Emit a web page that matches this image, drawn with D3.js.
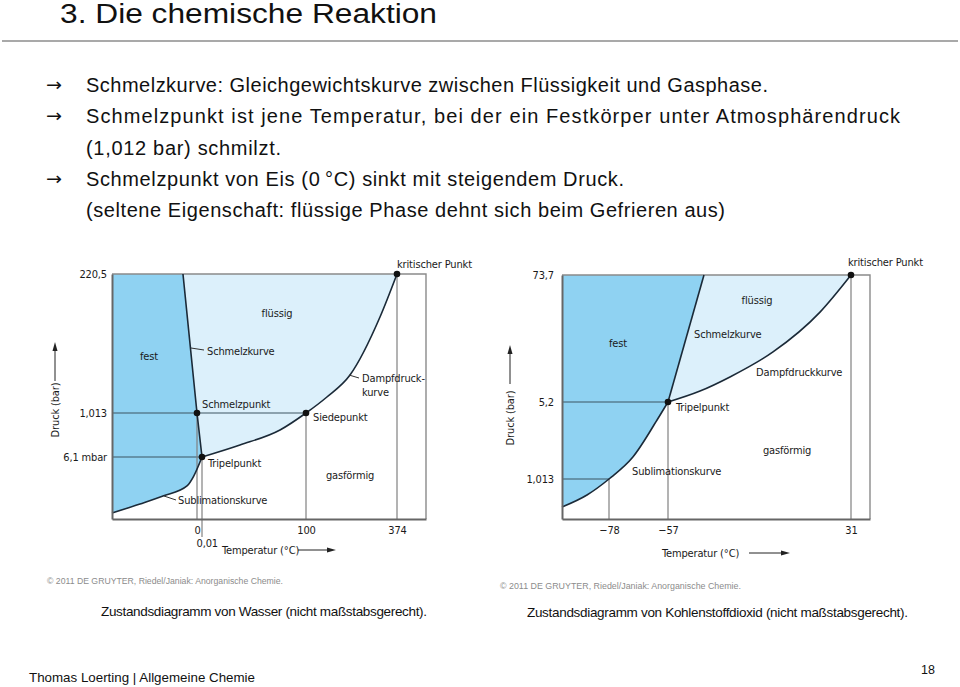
<!DOCTYPE html>
<html>
<head>
<meta charset="utf-8">
<script src="https://cdn.jsdelivr.net/npm/d3@7"></script>
<style>
    body { margin: 0; background: #fff; }
    svg { display: block; }
    .lbl { font-family: "Liberation Sans Narrow", "DejaVu Sans Condensed", sans-serif; font-size: 11px; letter-spacing: -0.15px; fill: #1a1a1a; }
    .slide { font-family: "Liberation Sans", Arial, sans-serif; fill: #111; }
    .arrow { font-family: "DejaVu Sans", sans-serif; fill: #111; }
</style>
</head>
<body>
<svg id="slide" width="960" height="687"></svg>
<script>
// ------------------------------------------------ Daten -------------------------------------------------
// Wasser (T in °C, p in bar) - nicht maßstabsgerecht, deshalb stückweise lineare Skalen
var waterXTicks = [0, 0.01, 100, 374];
var waterXLabels = ["0", "0,01", "100", "374"];
var waterYTicks = [220.5, 1.013, 0.0061];
var waterYLabels = ["220,5", "1,013", "6,1 mbar"];
var waterMelt = [[-3.3, 220.5], [0, 1.013], [0.01, 0.0061]];
var waterSubl = [[-20, 0.00059], [-13.4, 0.00148], [-8.0, 0.00226], [-2.35, 0.00325], [-0.8, 0.0042], [0.01, 0.0061]];
var waterVapor = [[0.01, 0.0061], [36.5, 0.281], [75, 0.624], [100, 1.013], [163, 26.3], [232.5, 61.0], [322.8, 152.6], [374, 220.5]];
var waterPoints = [[0, 1.013], [0.01, 0.0061], [100, 1.013], [374, 220.5]];

// Kohlenstoffdioxid
var co2XTicks = [-78, -57, 31];
var co2XLabels = ["\u221278", "\u221257", "31"];
var co2YTicks = [73.7, 5.2, 1.013];
var co2YLabels = ["73,7", "5,2", "1,013"];
var co2Melt = [[-39.7, 73.7], [-57, 5.2]];
var co2Subl = [[-100, 0.304], [-88.3, 0.608], [-78, 1.013], [-69.5, 2.209], [-60.9, 4.221], [-57, 5.2]];
var co2Vapor = [[-57, 5.2], [-41.6, 11.1], [-27.2, 18.7], [-6.5, 32.2], [16.1, 53.7], [31, 73.7]];
var co2Points = [[-57, 5.2], [31, 73.7]];

var bullets = [
    "Schmelzkurve: Gleichgewichtskurve zwischen Flüssigkeit und Gasphase.",
    "Schmelzpunkt ist jene Temperatur, bei der ein Festkörper unter Atmosphärendruck",
    "(1,012 bar) schmilzt.",
    "Schmelzpunkt von Eis (0\u2009°C) sinkt mit steigendem Druck.",
    "(seltene Eigenschaft: flüssige Phase dehnt sich beim Gefrieren aus)"
];

var svg = d3.select("#slide");

// ------------------------------------------------ Kopf -------------------------------------------------
svg.append("text").attr("class", "slide")
    .attr("x", 60).attr("y", 23)
    .attr("font-size", 27)
    .attr("textLength", 377).attr("lengthAdjust", "spacingAndGlyphs")
    .text("3. Die chemische Reaktion");

svg.append("line")
    .attr("x1", 2).attr("x2", 958).attr("y1", 41).attr("y2", 41)
    .attr("stroke", "#555").attr("stroke-width", 1.2);

var lineY = [92, 123, 155, 186, 217];
var lineW = [682, 814, 195, 538, 639];
var hasArrow = [true, true, false, true, false];

bullets.forEach(function (t, i) {
    if (hasArrow[i]) {
        svg.append("text").attr("class", "arrow")
            .attr("x", 46).attr("y", lineY[i] - 1)
            .attr("font-size", 18)
            .attr("textLength", 16).attr("lengthAdjust", "spacingAndGlyphs")
            .text("\u2192");
    }
    svg.append("text").attr("class", "slide")
        .attr("x", 86).attr("y", lineY[i])
        .attr("font-size", 20)
        .attr("textLength", lineW[i]).attr("lengthAdjust", "spacing")
        .text(t);
});

// ------------------------------------------------ Diagramme -------------------------------------------------
function drawDiagram(o) {
    var g = svg.append("g");
    var x = d3.scaleLinear().domain(o.xDomain).range(o.xRange);
    var y = d3.scaleLinear().domain(o.yDomain).range(o.yRange);

    var left = o.xRange[0], right = o.xRange[o.xRange.length - 1];
    var bottom = o.yRange[0], top = o.yRange[o.yRange.length - 1];

    var straight = d3.line().x(function (d) { return x(d[0]); }).y(function (d) { return y(d[1]); });
    var smooth = d3.line().x(function (d) { return x(d[0]); }).y(function (d) { return y(d[1]); })
        .curve(d3.curveMonotoneX);

    // flüssig (hell)
    g.append("path")
        .attr("d", smooth(o.vapor) + straight(o.melt).replace("M", "L") + "Z")
        .attr("fill", "#dcf0fb");

    // fest (dunkel)
    g.append("path")
        .attr("d", smooth(o.subl) + straight(o.melt.slice().reverse()).replace("M", "L") +
            "L" + left + "," + top + "Z")
        .attr("fill", "#8fd2f2");

    // Rahmen oben und rechts
    g.append("path")
        .attr("d", "M" + left + "," + top + "H" + right + "V" + bottom)
        .attr("fill", "none").attr("stroke", "#8a8a8a").attr("stroke-width", 1.4);

    // Hilfslinien
    o.hGuides.forEach(function (h) {
        g.append("line")
            .attr("x1", left).attr("x2", x(h[1]))
            .attr("y1", y(h[0])).attr("y2", y(h[0]))
            .attr("stroke", "#3d5563").attr("stroke-width", 1.1);
    });
    o.vGuides.forEach(function (v) {
        g.append("line")
            .attr("x1", x(v[0])).attr("x2", x(v[0]))
            .attr("y1", y(v[1])).attr("y2", bottom + (v[2] || 0))
            .attr("stroke", "#808080").attr("stroke-width", 1.2);
    });

    // Kurven
    [o.subl, o.vapor].forEach(function (c) {
        g.append("path").attr("d", smooth(c))
            .attr("fill", "none").attr("stroke", "#1b2a38").attr("stroke-width", 1.6);
    });
    g.append("path").attr("d", straight(o.melt))
        .attr("fill", "none").attr("stroke", "#1b2a38").attr("stroke-width", 1.6);

    // Achsen
    var ax = g.append("g")
        .attr("transform", "translate(0," + bottom + ")")
        .call(d3.axisBottom(x).tickValues(o.xTicks)
            .tickFormat(function (d, i) { return o.xLabels[i]; })
            .tickSize(0).tickPadding(7));
    var ay = g.append("g")
        .attr("transform", "translate(" + left + ",0)")
        .call(d3.axisLeft(y).tickValues(o.yTicks)
            .tickFormat(function (d, i) { return o.yLabels[i]; })
            .tickSize(0).tickPadding(o.yPad));

    [ax, ay].forEach(function (a) {
        a.attr("font-family", null).attr("font-size", null);
        a.selectAll("text").attr("class", "lbl").attr("fill", null);
        a.select(".domain").attr("stroke", "#666").attr("stroke-width", 2);
    });
    if (o.shiftLabel) {
        ax.selectAll(".tick text")
            .filter(function (d) { return d === o.shiftLabel; })
            .attr("text-anchor", "start").attr("x", -6).attr("y", 20);
    }

    // Punkte
    g.selectAll("circle.pt").data(o.points).enter().append("circle")
        .attr("cx", function (d) { return x(d[0]); })
        .attr("cy", function (d) { return y(d[1]); })
        .attr("r", 3.3).attr("fill", "#111");

    // Beschriftungen
    o.labels.forEach(function (l) {
        g.append("text").attr("class", "lbl")
            .attr("x", l[1]).attr("y", l[2]).attr("dy", "0.35em")
            .attr("text-anchor", l[3] || "start")
            .text(l[0]);
    });
    o.leaders.forEach(function (l) {
        g.append("line")
            .attr("x1", l[0]).attr("y1", l[1]).attr("x2", l[2]).attr("y2", l[3])
            .attr("stroke", "#333").attr("stroke-width", 1);
    });

    // Achsentitel mit Pfeilen
    g.append("text").attr("class", "lbl")
        .attr("x", o.tempLabel[0]).attr("y", o.tempLabel[1]).attr("dy", "0.35em")
        .text("Temperatur (°C)");
    g.append("line")
        .attr("x1", o.tempArrow[0]).attr("x2", o.tempArrow[1] - 6)
        .attr("y1", o.tempLabel[1]).attr("y2", o.tempLabel[1])
        .attr("stroke", "#222").attr("stroke-width", 1);
    g.append("path")
        .attr("d", "M" + o.tempArrow[1] + "," + o.tempLabel[1] + "l-9,-2.5v5z")
        .attr("fill", "#222");

    g.append("text").attr("class", "lbl")
        .attr("transform", "translate(" + (o.druckLabel[0] + 4) + "," + o.druckLabel[1] + ") rotate(-90)")
        .attr("text-anchor", "middle")
        .text("Druck (bar)");
    g.append("line")
        .attr("x1", o.druckLabel[0]).attr("x2", o.druckLabel[0])
        .attr("y1", o.druckArrow[0]).attr("y2", o.druckArrow[1] + 6)
        .attr("stroke", "#222").attr("stroke-width", 1);
    g.append("path")
        .attr("d", "M" + o.druckLabel[0] + "," + o.druckArrow[1] + "l-2.5,9h5z")
        .attr("fill", "#222");

    // Quelle und Unterschrift
    svg.append("text").attr("class", "slide")
        .attr("x", o.credit[0]).attr("y", o.credit[1])
        .attr("font-size", 8.5).style("fill", "#8c8c8c")
        .attr("textLength", o.credit[2]).attr("lengthAdjust", "spacingAndGlyphs")
        .text("© 2011 DE GRUYTER, Riedel/Janiak: Anorganische Chemie.");
    svg.append("text").attr("class", "slide")
        .attr("x", o.caption[0]).attr("y", o.caption[1])
        .attr("font-size", 13.5)
        .attr("textLength", o.caption[2]).attr("lengthAdjust", "spacing")
        .text(o.caption[3]);
}

drawDiagram({
    xDomain: [-20, 0, 0.01, 100, 374, 420],
    xRange: [112, 197, 202, 306, 397, 426],
    yDomain: [0, 0.0061, 1.013, 220.5],
    yRange: [519, 457, 413, 274],
    xTicks: waterXTicks, xLabels: waterXLabels,
    yTicks: waterYTicks, yLabels: waterYLabels, yPad: 5,
    shiftLabel: 0.01,
    melt: waterMelt, subl: waterSubl, vapor: waterVapor, points: waterPoints,
    hGuides: [[1.013, 100], [0.0061, 0.01]],
    vGuides: [[0, 1.013], [0.01, 0.0061, 18], [100, 1.013], [374, 220.5]],
    labels: [
        ["fest", 149, 356, "middle"],
        ["flüssig", 277, 313, "middle"],
        ["Schmelzkurve", 207, 351],
        ["Schmelzpunkt", 202, 404],
        ["Siedepunkt", 313, 417],
        ["Dampfdruck-", 362, 378],
        ["kurve", 362, 392],
        ["kritischer Punkt", 397, 264],
        ["Tripelpunkt", 208, 463],
        ["Sublimationskurve", 178, 500],
        ["gasförmig", 350, 475, "middle"]
    ],
    leaders: [[191, 348, 204, 350], [349, 375, 359, 378], [164, 496, 176, 500]],
    tempLabel: [222, 550], tempArrow: [298, 336],
    druckLabel: [55, 410], druckArrow: [381, 342],
    credit: [47, 584, 236],
    caption: [101, 616, 326, "Zustandsdiagramm von Wasser (nicht maßstabsgerecht)."]
});

drawDiagram({
    xDomain: [-100, -78, -57, 31, 40],
    xRange: [562, 609, 668, 851, 870],
    yDomain: [0, 1.013, 5.2, 73.7],
    yRange: [519, 479, 402, 275],
    xTicks: co2XTicks, xLabels: co2XLabels,
    yTicks: co2YTicks, yLabels: co2YLabels, yPad: 8,
    melt: co2Melt, subl: co2Subl, vapor: co2Vapor, points: co2Points,
    hGuides: [[5.2, -57], [1.013, -78]],
    vGuides: [[-78, 1.013], [-57, 5.2], [31, 73.7]],
    labels: [
        ["fest", 618, 343, "middle"],
        ["flüssig", 757, 300, "middle"],
        ["Schmelzkurve", 694, 334],
        ["Dampfdruckkurve", 756, 372],
        ["Tripelpunkt", 676, 407],
        ["gasförmig", 787, 450, "middle"],
        ["Sublimationskurve", 632, 471],
        ["kritischer Punkt", 848, 262]
    ],
    leaders: [],
    tempLabel: [662, 553], tempArrow: [749, 790],
    druckLabel: [510, 418], druckArrow: [384, 345],
    credit: [500, 589, 241],
    caption: [527, 617, 381, "Zustandsdiagramm von Kohlenstoffdioxid (nicht maßstabsgerecht)."]
});

// ------------------------------------------------ Fuß -------------------------------------------------
svg.append("text").attr("class", "slide")
    .attr("x", 29).attr("y", 682)
    .attr("font-size", 13.5)
    .attr("textLength", 226).attr("lengthAdjust", "spacingAndGlyphs")
    .text("Thomas Loerting | Allgemeine Chemie");
svg.append("text").attr("class", "slide")
    .attr("x", 935).attr("y", 674).attr("text-anchor", "end")
    .attr("font-size", 12.5)
    .text("18");
</script>
</body>
</html>
